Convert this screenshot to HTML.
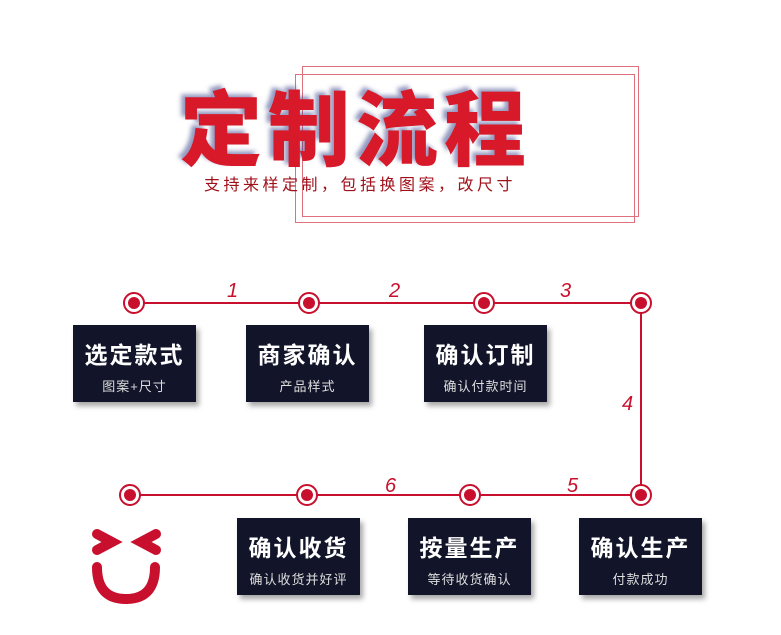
<!DOCTYPE html><html><head><meta charset="utf-8"><style>
body{margin:0;width:781px;height:635px;background:#fff;position:relative;overflow:hidden;font-family:"Liberation Sans","Noto Sans CJK SC",sans-serif}
.a{position:absolute}
.r{position:absolute;border:1.5px solid #e0707c}
.box{position:absolute;background:#12152a;color:#fff;text-align:center;box-shadow:3px 4px 5px rgba(0,0,0,.35);width:123px;height:77px}
.box b{display:block;font-size:23px;margin-top:11px;letter-spacing:2px;font-weight:bold}
.box i{display:block;font-style:normal;font-size:13px;margin-top:6px;color:#ddd;letter-spacing:1px}
.c{position:absolute;width:18px;height:18px;border:2px solid #c8102e;border-radius:50%;background:#fff;transform:translate(-11px,-11px)}
.c:after{content:"";position:absolute;left:3px;top:3px;width:12px;height:12px;border-radius:50%;background:#c8102e}
.n{position:absolute;color:#c8102e;font-style:italic;font-size:20px}
</style></head><body>
<div class="r" style="left:302px;top:66px;width:335px;height:149px"></div>
<div class="r" style="left:295px;top:74px;width:338px;height:147px"></div>
<div class="a" style="left:180px;top:82px;font-size:82px;font-weight:900;color:#d8192a;letter-spacing:6px;text-shadow:-4px -3px 4px rgba(60,70,140,.55);line-height:100px;">定制流程</div>
<div class="a" style="left:204px;top:171px;font-size:16px;color:#a0101a;letter-spacing:3.5px">支持来样定制，包括换图案，改尺寸</div>
<svg class="a" style="left:0;top:0" width="781" height="635"><path d="M134 303H641V495H130" fill="none" stroke="#c8102e" stroke-width="2"/></svg>
<div class="c" style="left:134px;top:303px"></div><div class="c" style="left:309px;top:303px"></div><div class="c" style="left:484px;top:303px"></div><div class="c" style="left:641px;top:303px"></div>
<div class="c" style="left:130px;top:495px"></div><div class="c" style="left:307px;top:495px"></div><div class="c" style="left:470px;top:495px"></div><div class="c" style="left:641px;top:495px"></div>
<div class="n" style="left:227px;top:280px">1</div><div class="n" style="left:389px;top:280px">2</div><div class="n" style="left:560px;top:280px">3</div><div class="n" style="left:622px;top:393px">4</div><div class="n" style="left:385px;top:475px">6</div><div class="n" style="left:567px;top:475px">5</div>
<div class="box" style="left:73px;top:325px"><b>选定款式</b><i>图案+尺寸</i></div>
<div class="box" style="left:246px;top:325px"><b>商家确认</b><i>产品样式</i></div>
<div class="box" style="left:424px;top:325px"><b>确认订制</b><i>确认付款时间</i></div>
<div class="box" style="left:237px;top:518px"><b>确认收货</b><i>确认收货并好评</i></div>
<div class="box" style="left:408px;top:518px"><b>按量生产</b><i>等待收货确认</i></div>
<div class="box" style="left:579px;top:518px"><b>确认生产</b><i>付款成功</i></div>
<svg class="a" style="left:88px;top:525px" width="80" height="85"><g fill="none" stroke="#c8102e" stroke-width="10" stroke-linecap="round"><path d="M9 9L24 17L9 25"/><path d="M68 9L53 17L68 25"/><path d="M9 42Q9 74 38 74Q67 74 67 42"/></g></svg>
</body></html>
